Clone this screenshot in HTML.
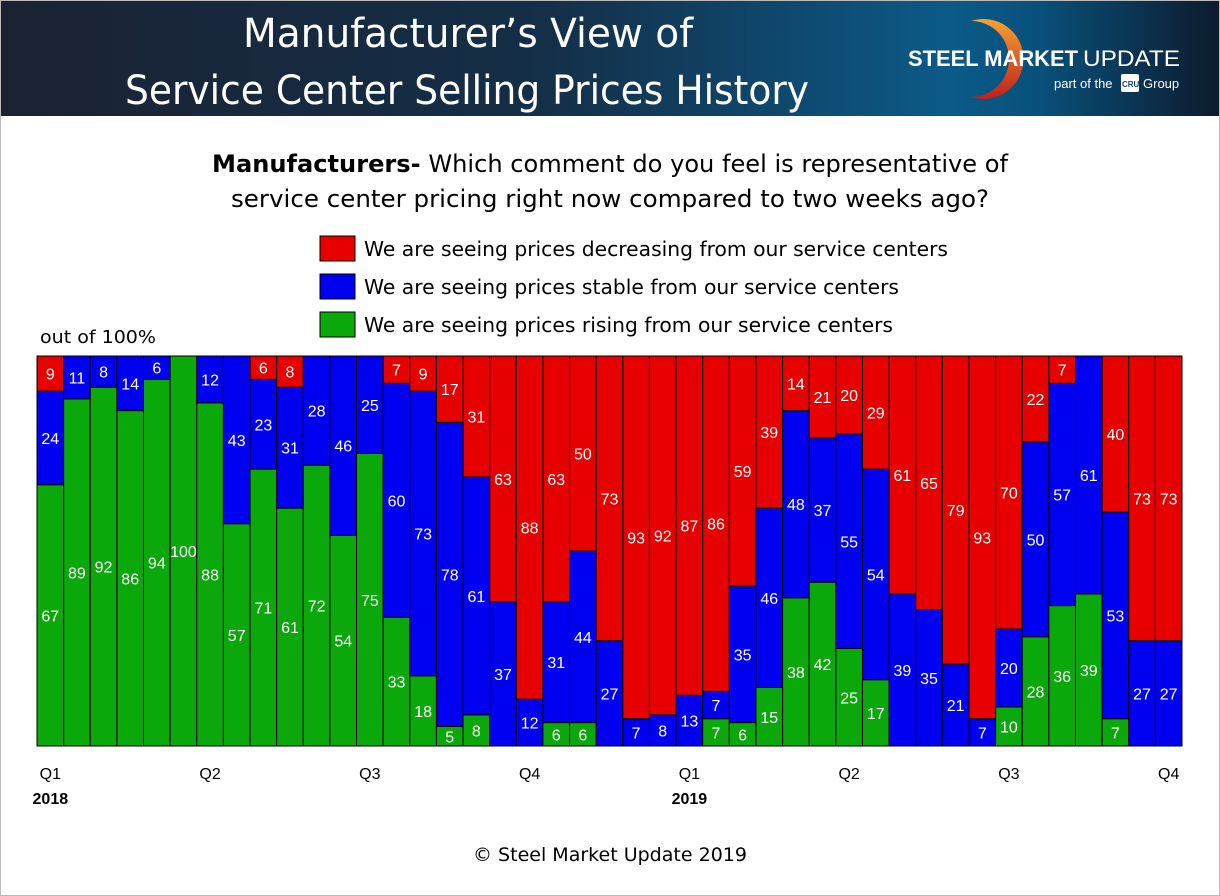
<!DOCTYPE html>
<html><head><meta charset="utf-8"><style>
body{margin:0;width:1220px;height:896px;overflow:hidden;background:#fff;font-family:"Liberation Sans",sans-serif;}
#frame{position:absolute;left:0;top:0;width:1218px;height:894px;border:1px solid #bbb;}
#header{position:absolute;left:1px;top:1px;width:1218px;height:115px;background:linear-gradient(90deg,#1b2233 0%,#142f48 45%,#0b5a88 78%,#09517c 85%,#0d1b2e 100%);}
</style></head><body>
<div id="frame"></div>
<div id="header">
 <svg style="position:absolute;left:0;top:0" width="900" height="115">
  <text x="242" y="46" fill="#fff" font-size="40" font-family="DejaVu Sans, sans-serif" textLength="450" lengthAdjust="spacingAndGlyphs">Manufacturer’s View of</text>
  <text x="124" y="103" fill="#fff" font-size="40" font-family="DejaVu Sans, sans-serif" textLength="684" lengthAdjust="spacingAndGlyphs">Service Center Selling Prices History</text>
 </svg>
 <svg style="position:absolute;left:900px;top:0px" width="300" height="115">
  <defs><linearGradient id="og" x1="0" y1="0" x2="0" y2="1"><stop offset="0" stop-color="#f4a233"/><stop offset="1" stop-color="#c0201c"/></linearGradient></defs>
  <path d="M70 20 A40 40 0 1 1 70 96 A34 34 0 1 0 70 20Z" fill="url(#og)"/>
  <text x="7" y="65" fill="#fff" font-size="22" font-weight="bold" font-family="Liberation Sans" textLength="170" lengthAdjust="spacingAndGlyphs">STEEL MARKET</text>
  <text x="182" y="65" fill="#fff" font-size="22" font-family="Liberation Sans" textLength="97" lengthAdjust="spacingAndGlyphs">UPDATE</text>
  <text x="153" y="87" fill="#fff" font-size="13" font-family="Liberation Sans">part of the</text>
  <rect x="220" y="73" width="18" height="18" rx="2" fill="#fff"/>
  <text x="221" y="86" fill="#0b4a70" font-size="8" font-weight="bold" font-family="Liberation Sans">CRU</text>
  <text x="242" y="87" fill="#fff" font-size="13" font-family="Liberation Sans">Group</text>
 </svg>
</div>
<svg id="chart" width="1220" height="896" style="position:absolute;left:0;top:0"></svg>
<script>
const categories=Array.from({length:43},(_,i)=>'w'+(i+1));
const redVals=[9,0,0,0,0,0,0,0,6,8,0,0,0,7,9,17,31,63,88,63,50,73,93,92,87,86,59,39,14,21,20,29,61,65,79,93,70,22,7,0,40,73,73];
const blueVals=[24,11,8,14,6,0,12,43,23,31,28,46,25,60,73,78,61,37,12,31,44,27,7,8,13,7,35,46,48,37,55,54,39,35,21,7,20,50,57,61,53,27,27];
const greenVals=[67,89,92,86,94,100,88,57,71,61,72,54,75,33,18,5,8,0,0,6,6,0,0,0,0,7,6,15,38,42,25,17,0,0,0,0,10,28,36,39,7,0,0];
const quarterLabels=['Q1','Q2','Q3','Q4','Q1','Q2','Q3','Q4'];
const quarterIdx=[0,6,12,18,24,30,36,42];
const yearLabels=['2018','2019'];
const yearIdx=[0,24];
const NS='http://www.w3.org/2000/svg';
const svg=document.getElementById('chart');
const X0=37,X1=1182,Y0=356,Y1=746;
const bw=(X1-X0)/categories.length;
const xPos=i=>X0+i*bw;
const yPos=v=>Y1-v/100*(Y1-Y0);
function mk(tag,attrs){const e=document.createElementNS(NS,tag);for(const k in attrs)e.setAttribute(k,attrs[k]);svg.appendChild(e);return e;}
function txt(x,y,s,opts){const e=mk('text',Object.assign({x:x,y:y,'font-family':'Liberation Sans, sans-serif','font-size':16,fill:'#000'},opts||{}));e.textContent=s;return e;}
const DJ='DejaVu Sans, sans-serif';
let t;
t=txt(610,172,'',{'font-size':24,'text-anchor':'middle','font-family':DJ,textLength:796,lengthAdjust:'spacingAndGlyphs'});
t.innerHTML='<tspan font-weight="bold">Manufacturers-</tspan> Which comment do you feel is representative of';


t=txt(610,207,'service center pricing right now compared to two weeks ago?',{'font-size':24,'text-anchor':'middle','font-family':DJ,textLength:758,lengthAdjust:'spacingAndGlyphs'});


const legendItems=[['#e60000','We are seeing prices decreasing from our service centers','legend-decreasing',584],['#0000f0','We are seeing prices stable from our service centers','legend-stable',535],['#0aa80a','We are seeing prices rising from our service centers','legend-rising',529]];
legendItems.forEach((l,i)=>{const y=236+i*38;
 const r=mk('rect',{x:320,y:y,width:35,height:25,fill:l[0],stroke:'#000','stroke-width':1});
 
 
 const tt=txt(364,y+20,l[1],{'font-size':20,'font-family':DJ,textLength:l[3],lengthAdjust:'spacingAndGlyphs'});
 
 });
t=txt(40,343,'out of 100%',{'font-size':18,'font-family':DJ,textLength:116,lengthAdjust:'spacingAndGlyphs'});


const series=[[greenVals,'#0aa80a','green'],[blueVals,'#0000f0','blue'],[redVals,'#e60000','red']];
categories.forEach((c,i)=>{let base=0;
 series.forEach(s=>{const v=s[0][i];if(v<=0)return;
  const r=mk('rect',{x:xPos(i),y:yPos(base+v),width:bw,height:yPos(base)-yPos(base+v),fill:s[1],stroke:'#000','stroke-width':1});
  
  
  const mid=(yPos(base)+yPos(base+v))/2;
  const lt=txt(xPos(i)+bw/2,mid+6,String(v),{'text-anchor':'middle',fill:'#fff'});
  
  
  base+=v;});});
const fr=mk('rect',{x:X0,y:Y0,width:X1-X0,height:Y1-Y0,fill:'none',stroke:'#000','stroke-width':1});


quarterLabels.forEach((q,k)=>{const e=txt(xPos(quarterIdx[k])+bw/2,779,q,{'text-anchor':'middle'});
 
 });
yearLabels.forEach((y,k)=>{const e=txt(xPos(yearIdx[k])+bw/2,804,y,{'text-anchor':'middle','font-weight':'bold'});
 
 });
t=txt(610,861,'© Steel Market Update 2019',{'font-size':19,'text-anchor':'middle','font-family':DJ,textLength:274,lengthAdjust:'spacingAndGlyphs'});


</script>
</body></html>
